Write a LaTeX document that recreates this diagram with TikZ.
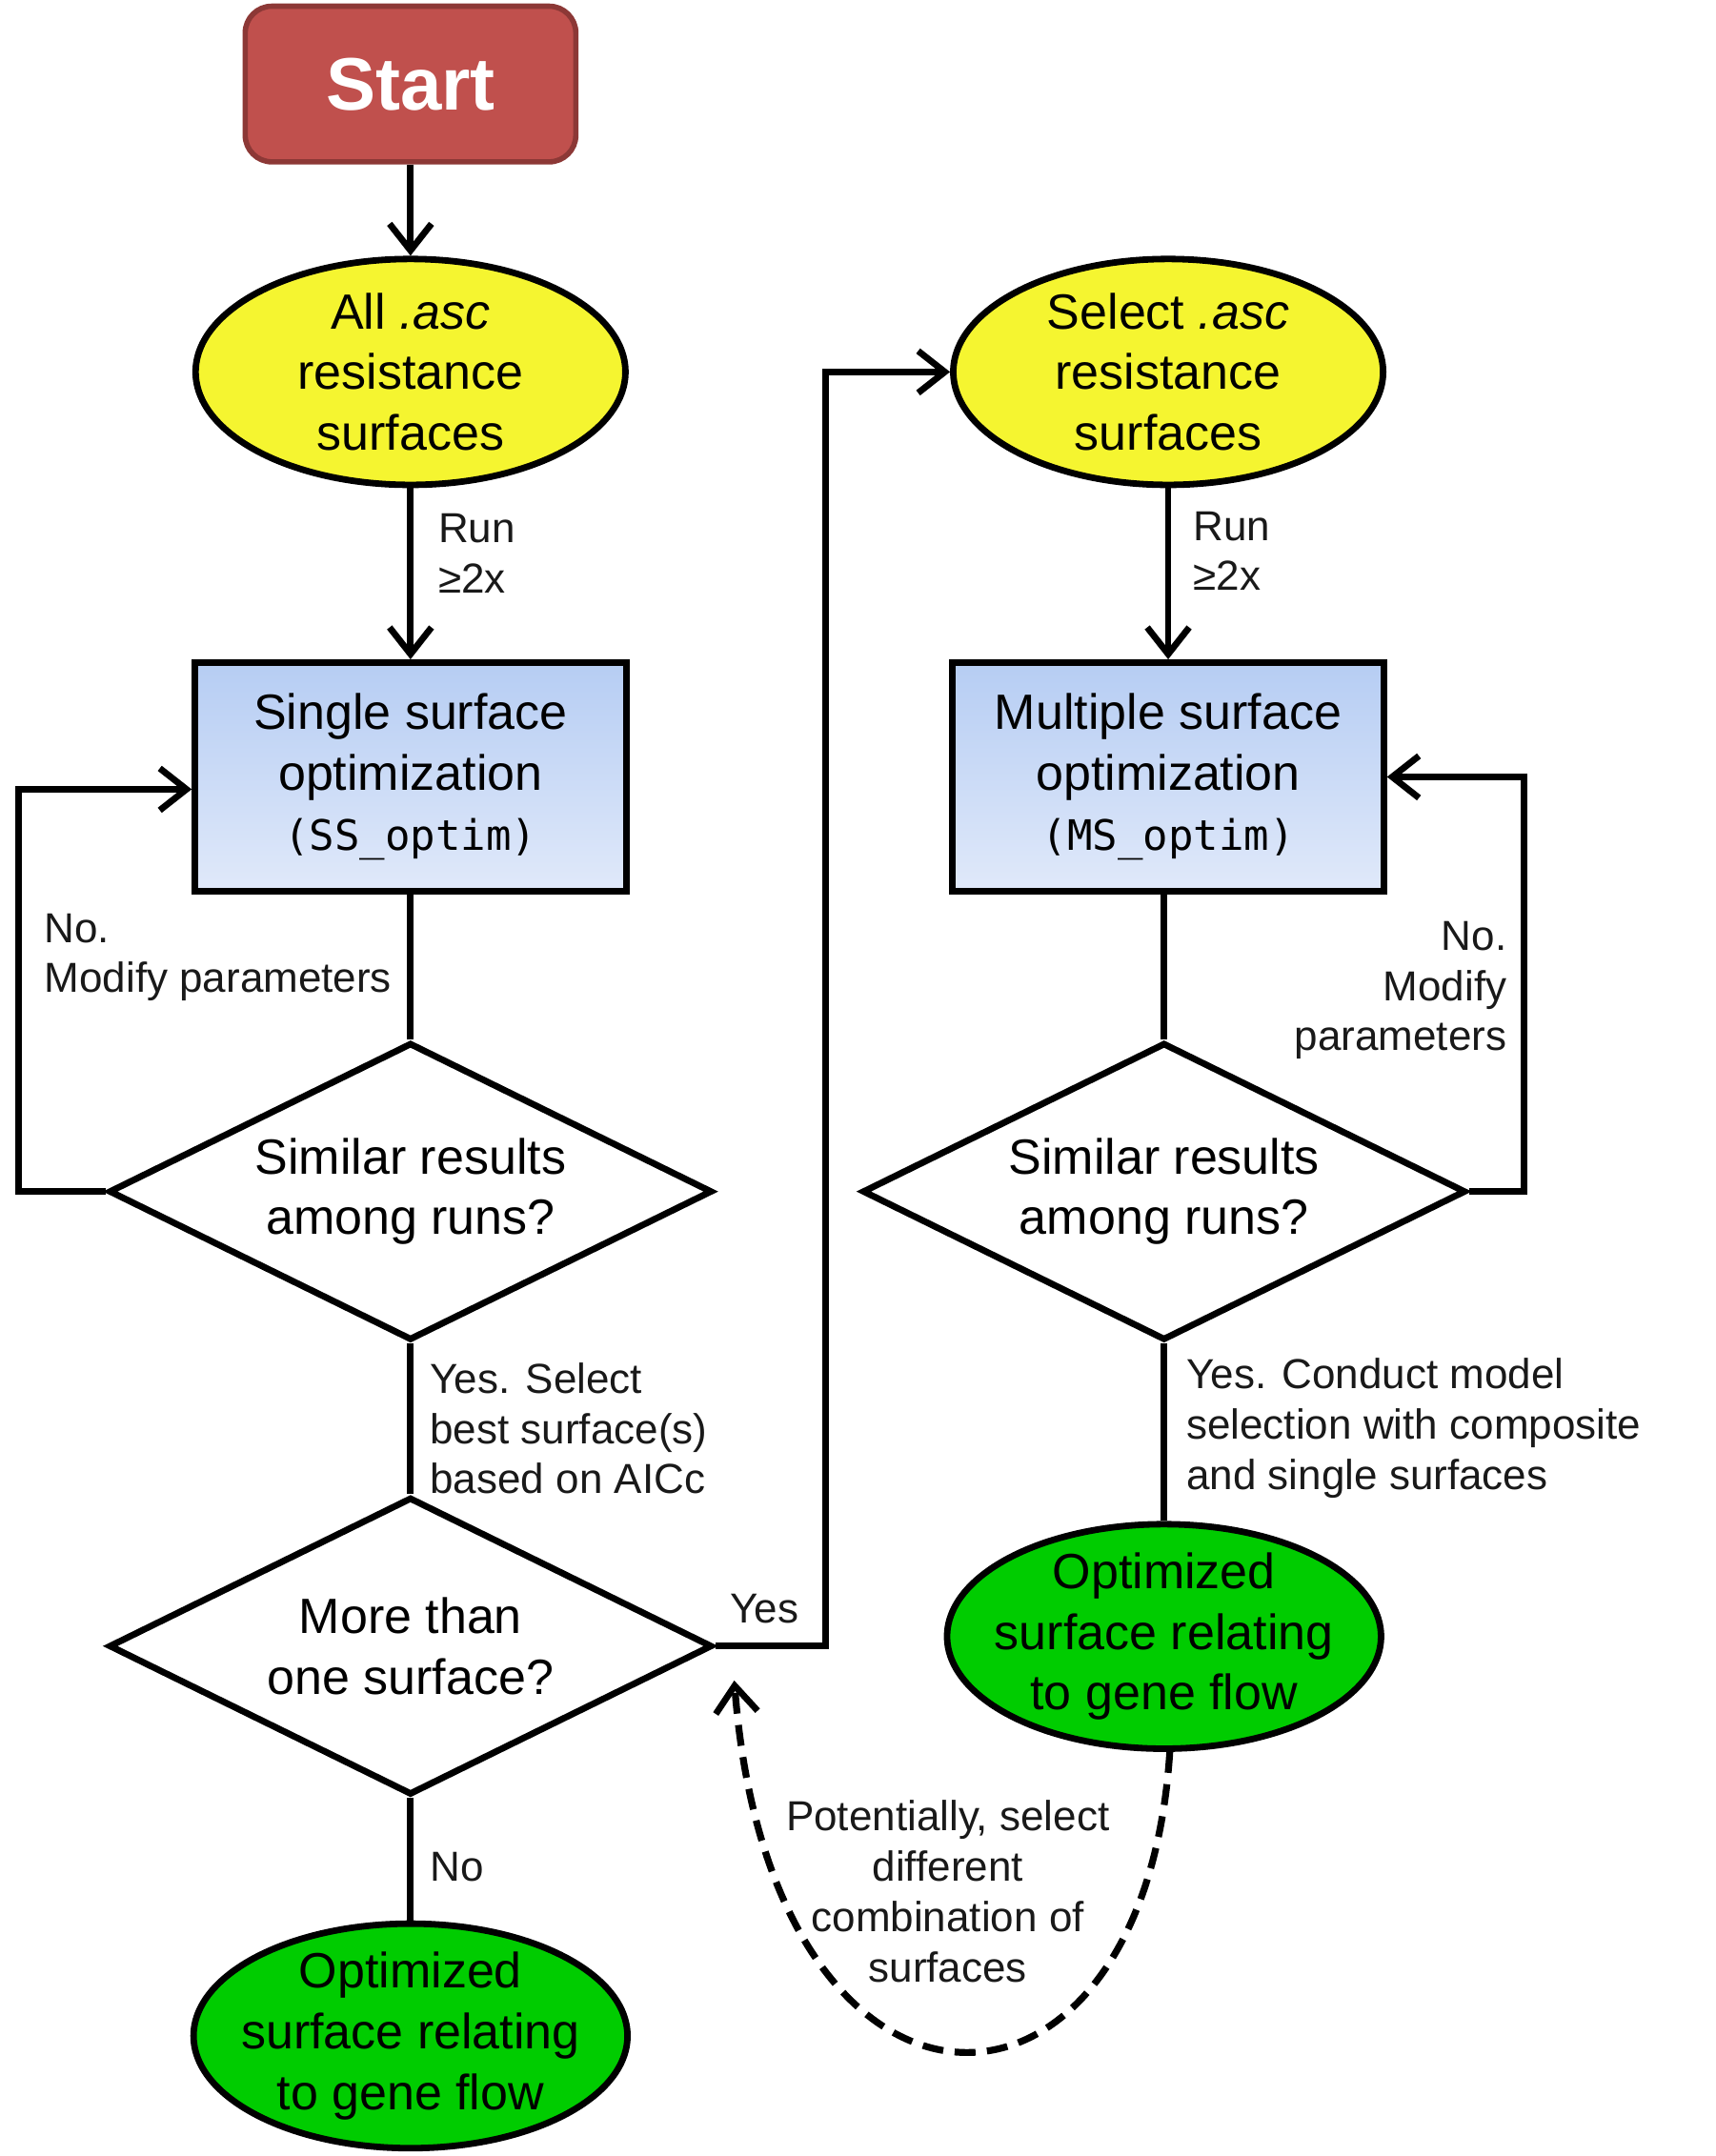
\documentclass[tikz,border=0pt]{standalone}
\usepackage{fontspec}
\setmainfont{Liberation Sans}
\newfontfamily\codefont{DejaVu Sans Mono}
\usetikzlibrary{shapes.geometric,arrows.meta}
\newcommand\dpx{0.7229pt}
\definecolor{startfill}{RGB}{192,80,77}
\definecolor{startdraw}{RGB}{140,56,54}
\definecolor{ylw}{RGB}{245,245,48}
\definecolor{grn}{RGB}{0,204,0}
\definecolor{bluetop}{RGB}{182,205,243}
\definecolor{bluebot}{RGB}{224,233,250}
\tikzset{
  mainfont/.style={font=\fontsize{26}{31.8}\selectfont},
  lblfont/.style={font=\fontsize{22}{26.4}\selectfont},
  startbox/.style={draw=startdraw, fill=startfill, line width=2.8pt, rounded corners=14pt,
    minimum width=240*\dpx, minimum height=113*\dpx, inner sep=0pt, text=white,
    font=\fontsize{39}{44}\selectfont\bfseries},
  inputell/.style={ellipse, draw, line width=3.4pt, fill=ylw, minimum width=312*\dpx,
    minimum height=164*\dpx, inner xsep=-18pt, inner ysep=-8pt, align=center, mainfont},
  endell/.style={inputell, fill=grn, minimum width=315*\dpx, minimum height=163*\dpx},
  procbox/.style={draw, line width=3.4pt, top color=bluetop, bottom color=bluebot,
    minimum width=313*\dpx, minimum height=166*\dpx, inner sep=0pt, align=center, mainfont},
  decision/.style={diamond, aspect=2, draw, line width=3.4pt, fill=white,
    minimum width=438*\dpx, minimum height=216*\dpx, inner sep=0pt, align=center, mainfont},
  conn/.style={line width=3.4pt},
  arr/.style={conn, -{Straight Barb[length=14pt, width=22pt, line width=3.4pt]}},
  dashedarr/.style={line width=3.6pt, dash pattern=on 11pt off 6pt,
    -{Straight Barb[length=14pt, width=22pt, line width=3.4pt]}},
  lbl/.style={inner sep=0pt, lblfont, text=black!90},
}
\newcommand\codetxt[1]{{\codefont\fontsize{22}{31.8}\selectfont #1}}
\begin{document}
\begin{tikzpicture}[x=\dpx, y=-\dpx]
\useasboundingbox (0,0) rectangle (1245,1565.2);
% nodes
\node[startbox] (start) at (298,61) {Start};
\node[inputell] (e1) at (298,270) {All \textit{.asc}\\resistance\\surfaces};
\node[procbox] (r1) at (298,564) {Single surface\\optimization\\\codetxt{(SS\_optim)}};
\node[decision] (d1) at (298,865) {Similar results\\among runs?};
\node[decision] (d2) at (298,1195) {More than\\one surface?};
\node[endell] (g1) at (298,1478) {Optimized\\surface relating\\to gene flow};
\node[inputell] (e2) at (848,270) {Select \textit{.asc}\\resistance\\surfaces};
\node[procbox] (r2) at (848,564) {Multiple surface\\optimization\\\codetxt{(MS\_optim)}};
\node[decision] (d3) at (845,865) {Similar results\\among runs?};
\node[endell] (g2) at (845,1188) {Optimized\\surface relating\\to gene flow};
% connectors
\draw[arr] (start) -- (e1);
\draw[arr] (e1) -- (r1);
\draw[conn] (r1) -- (d1);
\draw[arr] (d1.west) -- ++(-63,0) |- ([yshift=-6.5pt]r1.west);
\draw[conn] (d1) -- (d2);
\draw[arr] (d2.east) -- ++(80,0) |- (e2.west);
\draw[conn] (d2) -- (g1);
\draw[arr] (e2) -- (r2);
\draw[conn] (r2.south -| d3.north) -- (d3.north);
\draw[arr] (d3.east) -- ++(40,0) |- (r2.east);
\draw[conn] (d3) -- (g2);
\coordinate (back) at (533,1220);
\draw[dashedarr] ([xshift=3pt]g2.south) .. controls (830,1570) and (560,1570) .. (back);
% labels
\node[lbl, anchor=west, align=left] (run1) at (318,402) {Run\\≥2x};
\node[lbl, anchor=west, align=left] (run2) at (866,400) {Run\\≥2x};
\node[lbl, anchor=west, align=left] (no1) at (32,695) {No.\\Modify parameters};
\node[lbl, anchor=east, align=right] (no2) at (1094,719) {No.\\Modify\\parameters};
\node[lbl, anchor=west, align=left] (yes1) at (312,1037) {Yes. Select\\best surface(s)\\based on AICc};
\node[lbl, anchor=west, align=left] (yes2) at (861,1037) {Yes. Conduct model\\selection with composite\\and single surfaces};
\node[lbl] (yes3) at (555,1168) {Yes};
\node[lbl, anchor=west] (no3) at (312,1355) {No};
\node[lbl, align=center] (pot) at (688,1373) {Potentially, select\\different\\combination of\\surfaces};
\end{tikzpicture}
\end{document}
